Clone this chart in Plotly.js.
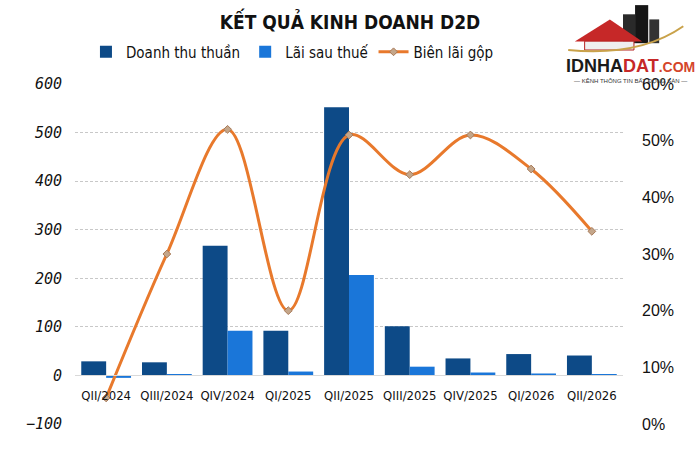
<!DOCTYPE html>
<html>
<head>
<meta charset="utf-8">
<script src="https://cdn.plot.ly/plotly-3.0.1.min.js"></script>
<style>html,body{margin:0;padding:0;background:#fff;}#chart{width:700px;height:457px;}</style>
</head>
<body>
<div id="chart"></div>
<script>
const categories = ["QII/2024","QIII/2024","QIV/2024","QI/2025","QII/2025","QIII/2025","QIV/2025","QI/2026","QII/2026"];
const doanhThuThuan = [29, 27, 267, 92, 552, 101, 35, 44, 41];
const laiSauThue = [-5, 2, 92, 8, 207, 18, 6, 4, 1];
const bienLaiGop = [0.046, 0.30, 0.52, 0.20, 0.51, 0.44, 0.51, 0.45, 0.34];
const leftTicks = [-100, 0, 100, 200, 300, 400, 500, 600];
const rightTicks = [0, 0.1, 0.2, 0.3, 0.4, 0.5, 0.6];

const traces = [
  {type:'bar', name:'Doanh thu thuần', x:categories, y:doanhThuThuan, marker:{color:'#0D4A87'}, yaxis:'y'},
  {type:'bar', name:'Lãi sau thuế', x:categories, y:laiSauThue, marker:{color:'#1A76D9'}, yaxis:'y'},
  {type:'scatter', mode:'lines+markers', name:'Biên lãi gộp', x:categories, y:bienLaiGop, yaxis:'y2',
   line:{color:'#E8792C', width:3, shape:'spline', smoothing:1},
   marker:{symbol:'diamond', size:6, color:'#C4A68A', line:{color:'#A87A58', width:1}}}
];

const layout = {
  width:700, height:457,
  margin:{l:75, r:77, t:84, b:33},
  paper_bgcolor:'#fff', plot_bgcolor:'#fff',
  title:{text:'KẾT QUẢ KINH DOANH D2D', x:0.5, xanchor:'center', y:0.952, yanchor:'middle',
         font:{family:'DejaVu Sans Condensed, DejaVu Sans', size:19, weight:'bold', color:'#111'}},
  barmode:'group', bargap:0.18, bargroupgap:0,
  showlegend:true,
  legend:{orientation:'h', x:0.02, xanchor:'left', y:1.094, yanchor:'middle',
          font:{family:'DejaVu Sans Condensed, DejaVu Sans', size:15, color:'#111'},
          itemwidth:30, tracegroupgap:0, bgcolor:'rgba(0,0,0,0)'},
  xaxis:{type:'category', anchor:'free', position:1/7, showline:true, linecolor:'#D9D9D9', linewidth:1,
         ticks:'', showgrid:false, ticklabelstandoff:8,
         tickfont:{family:'DejaVu Sans Condensed, DejaVu Sans', size:13, color:'#111'}},
  yaxis:{range:[-100,600], tickvals:leftTicks, showgrid:true, gridcolor:'#C8C8C8', griddash:'3px,2px',
         zeroline:false, ticks:'', ticklabelstandoff:12,
         tickfont:{family:'DejaVu Sans Mono', size:15, style:'italic', color:'#111'}},
  yaxis2:{range:[0,0.6], tickvals:rightTicks, tickformat:'.0%', overlaying:'y', side:'right',
          showgrid:false, zeroline:false, ticks:'', ticklabelstandoff:18,
          tickfont:{family:'Liberation Sans Narrow, Liberation Sans', size:16, color:'#111'}},
  shapes:[
    {type:'rect', xref:'paper', yref:'paper', x0:1.000, x1:1.022, y0:1.12, y1:1.205, fillcolor:'#2a2a2a', line:{width:0}},
    {type:'rect', xref:'paper', yref:'paper', x0:1.022, x1:1.046, y0:1.12, y1:1.232, fillcolor:'#161616', line:{width:0}},
    {type:'rect', xref:'paper', yref:'paper', x0:1.048, x1:1.066, y0:1.12, y1:1.19, fillcolor:'#333', line:{width:0}},
    {type:'path', xref:'paper', yref:'paper', path:'M 0.912 1.125 L 0.976 1.19 L 1.035 1.125 Z', fillcolor:'#C62828', line:{width:0}},
    {type:'rect', xref:'paper', yref:'paper', x0:0.93, x1:1.02, y0:1.1, y1:1.126, fillcolor:'#efefef', line:{color:'#B52222', width:1}},
    {type:'path', xref:'paper', yref:'paper', path:'M 0.90 1.1 Q 1.03 1.08 1.11 1.17', line:{color:'#C9A24A', width:2}}
  ],
  annotations:[
    {xref:'paper', yref:'paper', x:1.013, y:1.053, xanchor:'center', yanchor:'middle', showarrow:false,
     text:'<b><span style="color:#1b1b1b">IDNHA</span><span style="color:#C62828">DAT</span><span style="color:#D4452A;font-size:14px">.COM</span></b>',
     font:{family:'Liberation Sans Narrow, Liberation Sans', size:18}},
    {xref:'paper', yref:'paper', x:1.013, y:1.011, xanchor:'center', yanchor:'middle', showarrow:false,
     text:'— KÊNH THÔNG TIN BẤT ĐỘNG SẢN —', font:{family:'Liberation Sans Narrow, Liberation Sans', size:6, color:'#333'}}
  ]
};

Plotly.newPlot('chart', traces, layout, {displayModeBar:false, responsive:false});
</script>
</body>
</html>
